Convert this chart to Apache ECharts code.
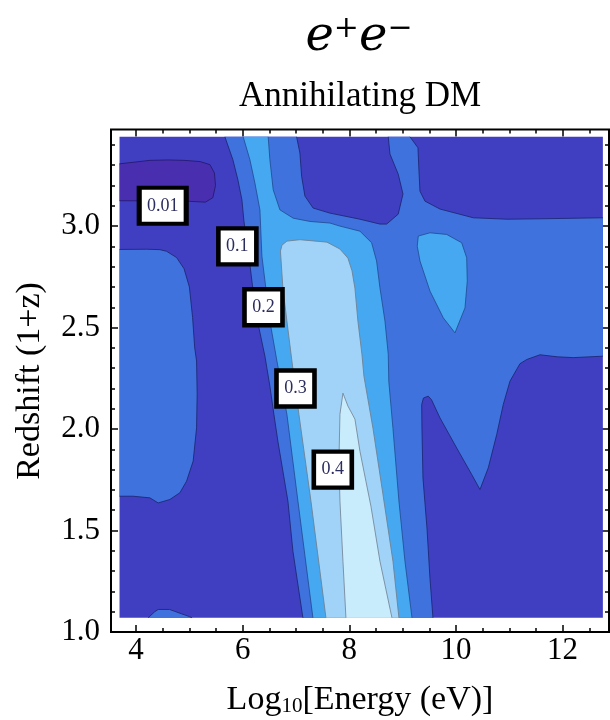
<!DOCTYPE html>
<html>
<head>
<meta charset="utf-8">
<title>Annihilating DM — e+e− deposition fraction</title>
<script src="https://cdn.jsdelivr.net/npm/echarts@6.0.0/dist/echarts.min.js"></script>
<style>
  html, body { margin: 0; padding: 0; background: #fff; }
  #chart { width: 610px; height: 720px; }
</style>
</head>
<body>
<div id="chart"></div>
<script>
// Axis ranges (log10 energy in eV, redshift 1+z)
const X_AXIS_MIN = 3.53, X_AXIS_MAX = 12.87;
const Y_AXIS_MIN = 1.0, Y_AXIS_MAX = 3.476;

// Extent of the sampled field
const XMIN = 3.69, XMAX = 12.755, ZMIN = 1.07, ZMAX = 3.44;

// Tick values
const xMajorTicks = [4, 6, 8, 10, 12];
const xMinorTicks = [4.5, 5, 5.5, 6.5, 7, 7.5, 8.5, 9, 9.5, 10.5, 11, 11.5, 12.5];
const yMajorTicks = [1.0, 1.5, 2.0, 2.5, 3.0];
const yMinorTicks = [1.1, 1.2, 1.3, 1.4, 1.6, 1.7, 1.8, 1.9, 2.1, 2.2, 2.3, 2.4, 2.6, 2.7, 2.8, 2.9, 3.1, 3.2, 3.3, 3.4];

// Contour regions: [log10 E, 1+z] vertices of each filled level set
// f < 0.01 pocket at high redshift, low energy
const regionBelow001 = [
  [XMIN, 3.307], [4.0, 3.316], [4.26, 3.324], [4.6, 3.326], [4.9, 3.324], [5.2, 3.318],
  [5.385, 3.303], [5.47, 3.262], [5.49, 3.20], [5.44, 3.14], [5.30, 3.118], [5.0, 3.122],
  [4.5, 3.124], [XMIN, 3.125]
];
// second level, low-energy plateau on the left edge
const regionLeftPlateau = [
  [XMIN, 2.885], [4.2, 2.886], [4.447, 2.884], [4.572, 2.876], [4.76, 2.845], [4.90, 2.79],
  [5.00, 2.70], [5.06, 2.55], [5.10, 2.40], [5.135, 2.335], [5.146, 2.172], [5.135, 2.006],
  [5.071, 1.842], [4.947, 1.743], [4.822, 1.686], [4.634, 1.653], [4.415, 1.636],
  [4.259, 1.661], [3.946, 1.669], [XMIN, 1.669]
];
// second level, small bump at the lowest redshifts
const regionLowBump = [
  [4.227, ZMIN], [4.35, 1.10], [4.415, 1.111], [4.63, 1.111], [4.85, 1.09], [5.0, 1.076], [5.05, ZMIN]
];
// f > 0.1 : main band plus the high-energy shelf
const regionAbove01 = [
  [5.666, ZMAX], [7.011, ZMAX], [7.073, 3.36], [7.105, 3.246], [7.167, 3.148], [7.32, 3.089],
  [7.636, 3.064], [8.199, 3.034], [8.574, 3.010], [8.70, 3.010], [8.917, 3.059], [9.006, 3.158],
  [8.917, 3.256], [8.762, 3.355], [8.73, ZMAX], [9.137, ZMAX], [9.287, 3.386], [9.306, 3.271],
  [9.325, 3.172], [9.419, 3.123], [9.70, 3.084], [10.325, 3.041], [10.957, 3.034],
  [11.576, 3.036], [XMAX, 3.041], [XMAX, 2.359], [12.2, 2.352], [11.9, 2.356], [11.576, 2.366],
  [11.33, 2.343], [11.2, 2.322], [11.013, 2.236], [10.887, 2.121], [10.764, 1.973],
  [10.606, 1.809], [10.45, 1.702], [10.295, 1.776], [10.013, 1.907], [9.70, 2.055],
  [9.54, 2.145], [9.48, 2.162], [9.39, 2.153], [9.357, 2.121], [9.362, 2.0], [9.381, 1.758],
  [9.456, 1.512], [9.512, 1.265], [9.568, ZMIN], [7.129, ZMIN], [6.942, 1.398], [6.848, 1.645],
  [6.66, 1.94], [6.585, 2.073], [6.51, 2.211], [6.417, 2.359], [6.285, 2.523], [6.191, 2.69],
  [6.116, 2.852], [6.023, 3.025], [5.985, 3.13], [5.91, 3.228], [5.816, 3.327]
];
// f > 0.2 : main band
const regionAbove02 = [
  [6.009, ZMAX], [6.478, ZMAX], [6.51, 3.327], [6.572, 3.179], [6.698, 3.08], [6.948, 3.039],
  [7.261, 3.023], [7.636, 3.015], [7.824, 3.0], [8.199, 2.975], [8.418, 2.918], [8.511, 2.828],
  [8.574, 2.696], [8.668, 2.532], [8.73, 2.368], [8.74, 2.236], [8.818, 2.004], [8.93, 1.645],
  [9.043, 1.349], [9.175, ZMIN], [7.317, ZMIN], [7.036, 1.645], [6.829, 2.073], [6.642, 2.335],
  [6.51, 2.532], [6.36, 2.852], [6.323, 3.08], [6.229, 3.212], [6.135, 3.327]
];
// f > 0.2 : isolated island at higher energy
const regionIsland02 = [
  [9.293, 2.951], [9.512, 2.967], [9.826, 2.959], [10.107, 2.918], [10.201, 2.844],
  [10.212, 2.729], [10.169, 2.597], [9.981, 2.474], [9.762, 2.548], [9.512, 2.68],
  [9.325, 2.828], [9.274, 2.901]
];
// f > 0.3
const regionAbove03 = [
  [6.708, 2.877], [6.736, 2.906], [6.829, 2.926], [7.073, 2.933], [7.58, 2.921], [7.824, 2.887],
  [7.974, 2.842], [8.05, 2.78], [8.105, 2.694], [8.161, 2.532], [8.236, 2.369], [8.274, 2.26],
  [8.443, 2.004], [8.63, 1.679], [8.818, 1.349], [8.93, ZMIN], [7.561, ZMIN], [7.28, 1.645],
  [7.054, 2.073], [6.923, 2.335], [6.829, 2.532], [6.754, 2.694]
];
// f > 0.4
const regionAbove04 = [
  [7.936, ZMIN], [7.88, 1.349], [7.824, 1.645], [7.805, 1.842], [7.824, 2.073], [7.88, 2.177],
  [7.974, 2.113], [8.105, 2.049], [8.199, 1.891], [8.311, 1.743], [8.405, 1.62], [8.574, 1.349],
  [8.799, ZMIN]
];
const fieldExtent = [[XMIN, ZMIN], [XMAX, ZMIN], [XMAX, ZMAX], [XMIN, ZMAX]];

// Contour labels
const contourLabelText = ['0.01', '0.1', '0.2', '0.3', '0.4'];
const contourLabelX = [4.5, 5.9, 6.39, 6.99, 7.69];
const contourLabelZ = [3.1, 2.9, 2.6, 2.2, 1.8];

// Level styles (fill, contour line)
const levelStyle = [
  { fill: '#4a2eb0', line: 'rgba(35,25,110,0.85)' },
  { fill: '#403fc2', line: null },
  { fill: '#3f72dc', line: 'rgba(25,35,110,0.8)' },
  { fill: '#45a8f0', line: 'rgba(30,70,140,0.75)' },
  { fill: '#a0d3f7', line: 'rgba(110,130,150,0.9)' },
  { fill: '#c9ecfd', line: 'rgba(120,138,155,0.9)' }
];

const regionList = [
  { pts: fieldExtent, level: 1 },
  { pts: regionBelow001, level: 0 },
  { pts: regionLeftPlateau, level: 2 },
  { pts: regionLowBump, level: 2 },
  { pts: regionAbove01, level: 2 },
  { pts: regionAbove02, level: 3 },
  { pts: regionIsland02, level: 3 },
  { pts: regionAbove03, level: 4 },
  { pts: regionAbove04, level: 5 }
];

function onBoundary(a, b) {
  return (a[0] === XMIN && b[0] === XMIN) || (a[0] === XMAX && b[0] === XMAX) ||
         (a[1] === ZMIN && b[1] === ZMIN) || (a[1] === ZMAX && b[1] === ZMAX);
}

// Filled level set plus its contour line (segments lying on the field edge are not stroked)
function renderRegion(params, api) {
  const r = regionList[params.dataIndex];
  const st = levelStyle[r.level];
  const px = r.pts.map(p => api.coord(p));
  const children = [{ type: 'polygon', shape: { points: px }, style: { fill: st.fill } }];
  if (st.line) {
    const n = r.pts.length;
    let start = -1;
    for (let i = 0; i < n; i++) {
      if (onBoundary(r.pts[(i - 1 + n) % n], r.pts[i])) { start = i; break; }
    }
    const lineStyle = { stroke: st.line, lineWidth: 1, fill: null };
    if (start < 0) {
      children.push({ type: 'polygon', shape: { points: px }, style: Object.assign({}, lineStyle) });
    } else {
      let run = [px[start]];
      for (let k = 0; k < n; k++) {
        const i = (start + k) % n, j = (i + 1) % n;
        if (onBoundary(r.pts[i], r.pts[j])) {
          if (run.length > 1) children.push({ type: 'polyline', shape: { points: run }, style: Object.assign({}, lineStyle) });
          run = [px[j]];
        } else {
          run.push(px[j]);
        }
      }
      if (run.length > 1) children.push({ type: 'polyline', shape: { points: run }, style: Object.assign({}, lineStyle) });
    }
  }
  return { type: 'group', children: children };
}

const serifFont = 'Liberation Serif';
const tickLabelStyle = { fontFamily: serifFont, fontSize: 31, color: '#000' };

function makeXAxis(pos, values, len, labels) {
  return {
    type: 'value', position: pos, min: X_AXIS_MIN, max: X_AXIS_MAX,
    axisLine: { show: false }, splitLine: { show: false },
    axisTick: { show: true, inside: true, length: len, customValues: values, lineStyle: { color: '#000', width: 1.5 } },
    axisLabel: labels ? Object.assign({ show: true, customValues: values, margin: 3, formatter: v => String(v) }, tickLabelStyle) : { show: false }
  };
}
function makeYAxis(pos, values, len, labels) {
  return {
    type: 'value', position: pos, min: Y_AXIS_MIN, max: Y_AXIS_MAX,
    axisLine: { show: false }, splitLine: { show: false },
    axisTick: { show: true, inside: true, length: len, customValues: values, lineStyle: { color: '#000', width: 1.5 } },
    axisLabel: labels ? Object.assign({ show: true, customValues: values, margin: 11, formatter: v => v.toFixed(1) }, tickLabelStyle) : { show: false }
  };
}

const chart = echarts.init(document.getElementById('chart'), null, { renderer: 'canvas' });
chart.setOption({
  animation: false,
  backgroundColor: '#fff',
  grid: { left: 111, top: 129.5, width: 498, height: 502.5, show: true, borderColor: '#000', borderWidth: 2, backgroundColor: 'transparent' },
  xAxis: [
    makeXAxis('bottom', xMajorTicks, 7, true),
    makeXAxis('bottom', xMinorTicks, 4, false),
    makeXAxis('top', xMajorTicks, 7, false),
    makeXAxis('top', xMinorTicks, 4, false)
  ],
  yAxis: [
    makeYAxis('left', yMajorTicks, 7, true),
    makeYAxis('left', yMinorTicks, 4, false),
    makeYAxis('right', yMajorTicks, 7, false),
    makeYAxis('right', yMinorTicks, 4, false)
  ],
  series: [
    {
      type: 'custom', silent: true, z: 2,
      renderItem: renderRegion,
      data: regionList.map((r, i) => [i])
    },
    {
      type: 'scatter', silent: true, z: 5,
      symbol: 'rect',
      symbolSize: v => (v[2].length > 3 ? [47, 36] : [38, 36]),
      itemStyle: { color: '#fff', borderColor: '#000', borderWidth: 4.5, opacity: 1 },
      label: {
        show: true, position: 'inside', formatter: p => p.value[2],
        fontFamily: serifFont, fontSize: 18, color: '#2b2d5e'
      },
      data: contourLabelText.map((t, i) => [contourLabelX[i], contourLabelZ[i], t])
    }
  ],
  graphic: [
    {
      type: 'text', x: 359, y: 38,
      style: {
        text: '{e|e}{s|+}{e|e}{s|\u2212}', align: 'center', verticalAlign: 'middle',
        rich: {
          e: { fontFamily: 'DejaVu Serif', fontStyle: 'italic', fontSize: 48, color: '#000' },
          s: { fontFamily: 'DejaVu Serif', fontSize: 30, color: '#000', verticalAlign: 'top' }
        }
      }
    },
    {
      type: 'text', x: 360, y: 97,
      style: { text: 'Annihilating DM', align: 'center', verticalAlign: 'middle', fontFamily: serifFont, fontSize: 35, fill: '#000' }
    },
    {
      type: 'text', x: 30, y: 381, rotation: Math.PI / 2,
      style: { text: 'Redshift (1+z)', align: 'center', verticalAlign: 'middle', fontFamily: serifFont, fontSize: 34, fill: '#000' }
    },
    {
      type: 'text', x: 360, y: 700,
      style: {
        text: '{m|Log}{s|10}{m|[Energy (eV)]}', align: 'center', verticalAlign: 'middle',
        rich: {
          m: { fontFamily: serifFont, fontSize: 34, color: '#000' },
          s: { fontFamily: serifFont, fontSize: 21, color: '#000', verticalAlign: 'bottom' }
        }
      }
    }
  ]
});
</script>
</body>
</html>
